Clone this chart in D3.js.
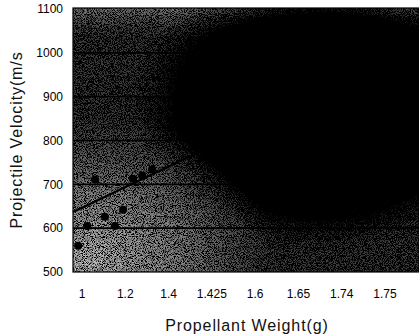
<!DOCTYPE html>
<html>
<head>
<meta charset="utf-8">
<script src="https://cdn.jsdelivr.net/npm/d3@7"></script>
<style>
  body { margin: 0; background: #fff; }
  svg { display: block; font-family: "Liberation Sans", Arial, sans-serif; }
  .tick-label { font-size: 12px; fill: #000; }
  .title { font-size: 16px; fill: #111; letter-spacing: 0.9px; }
</style>
</head>
<body>
<svg width="419" height="335"></svg>
<script>
// x categories (propellant weight, g) and y ticks (m/s)
const weights = ["1", "1.2", "1.4", "1.425", "1.6", "1.65", "1.74", "1.75"];
const velocityTicks = [500, 600, 700, 800, 900, 1000, 1100];
const gridValues = [600, 700, 800, 900, 1000];

// measured shots: position along the category axis (index units) and velocity
const shotPos = [-0.09, 0.12, 0.30, 0.53, 0.76, 0.95, 1.18, 1.39, 1.62];
const shotVel = [560, 605, 711, 626, 605, 642, 713, 720, 734];

// trend line end points
const trendPos = [-0.21, 3.5];
const trendVel = [637, 811];

const svg = d3.select("svg");
const pLeft = 73, pRight = 419, pTop = 8, pBottom = 272;

const xBand = d3.scalePoint().domain(weights).range([82, 385]);
const xPos = d3.scaleLinear().domain([0, weights.length - 1]).range([82, 385]);
const y = d3.scaleLinear().domain([500, 1100]).range([pBottom, pTop + 1]);

const defs = svg.append("defs");

const dark = defs.append("radialGradient")
  .attr("id", "dark").attr("cx", 0.72).attr("cy", 0.37).attr("r", 0.55);
dark.append("stop").attr("offset", 0).attr("stop-color", "#000");
dark.append("stop").attr("offset", 0.35).attr("stop-color", "#000").attr("stop-opacity", 0.95);
dark.append("stop").attr("offset", 0.7).attr("stop-color", "#000").attr("stop-opacity", 0.45);
dark.append("stop").attr("offset", 1).attr("stop-color", "#000").attr("stop-opacity", 0);

const rad = defs.append("radialGradient")
  .attr("id", "light").attr("cx", 0.04).attr("cy", 0.96).attr("r", 0.55);
rad.append("stop").attr("offset", 0).attr("stop-color", "#a0a0a0");
rad.append("stop").attr("offset", 0.5).attr("stop-color", "#7c7c7c").attr("stop-opacity", 0.8);
rad.append("stop").attr("offset", 1).attr("stop-color", "#666").attr("stop-opacity", 0);

const topBand = defs.append("linearGradient")
  .attr("id", "topband").attr("x1", 0).attr("y1", 0).attr("x2", 0).attr("y2", 1);
topBand.append("stop").attr("offset", 0).attr("stop-color", "#777").attr("stop-opacity", 0.7);
topBand.append("stop").attr("offset", 0.12).attr("stop-color", "#555").attr("stop-opacity", 0);

// halftone grain
const grain = defs.append("filter").attr("id", "grain")
  .attr("x", 0).attr("y", 0).attr("width", 1).attr("height", 1);
grain.append("feTurbulence")
  .attr("type", "fractalNoise").attr("baseFrequency", 1.1)
  .attr("numOctaves", 2).attr("seed", 7).attr("result", "noise");
grain.append("feColorMatrix").attr("in", "noise").attr("type", "matrix")
  .attr("values", "1 0 0 0 0  1 0 0 0 0  1 0 0 0 0  0 0 0 0 1").attr("result", "gray");
const ct = grain.append("feComponentTransfer").attr("in", "gray").attr("result", "contrast");
["feFuncR", "feFuncG", "feFuncB"].forEach((f) =>
  ct.append(f).attr("type", "linear").attr("slope", 4).attr("intercept", -1.5));
grain.append("feComposite").attr("in", "SourceGraphic").attr("in2", "contrast")
  .attr("operator", "arithmetic").attr("k1", 1.6).attr("k2", 0.1).attr("k3", 0).attr("k4", -0.04);

const plot = svg.append("g").attr("filter", "url(#grain)");
["#404040", "url(#topband)", "url(#dark)", "url(#light)"].forEach((fill) =>
  plot.append("rect").attr("x", pLeft).attr("y", pTop)
    .attr("width", pRight - pLeft).attr("height", pBottom - pTop).attr("fill", fill));

// gridlines
svg.append("g").selectAll("line").data(gridValues).join("line")
  .attr("x1", pLeft).attr("x2", pRight)
  .attr("y1", (d) => y(d)).attr("y2", (d) => y(d))
  .attr("stroke", "#000").attr("stroke-width", 1.6);

// plot frame
svg.append("rect").attr("x", pLeft).attr("y", pTop)
  .attr("width", pRight - pLeft).attr("height", pBottom - pTop)
  .attr("fill", "none").attr("stroke", "#000").attr("stroke-width", 1.2);

// trend line
svg.append("line")
  .attr("x1", xPos(trendPos[0])).attr("y1", y(trendVel[0]))
  .attr("x2", xPos(trendPos[1])).attr("y2", y(trendVel[1]))
  .attr("stroke", "#000").attr("stroke-width", 2.2);

// shots
svg.append("g").selectAll("circle").data(shotPos).join("circle")
  .attr("cx", (d) => xPos(d))
  .attr("cy", (d, i) => y(shotVel[i]))
  .attr("r", 4)
  .attr("fill", "#000");

// y axis labels
svg.append("g").selectAll("text").data(velocityTicks).join("text")
  .attr("class", "tick-label")
  .attr("x", 63).attr("y", (d) => y(d))
  .attr("dy", "0.35em").attr("text-anchor", "end")
  .text((d) => d);

// x axis labels
svg.append("g").selectAll("text").data(weights).join("text")
  .attr("class", "tick-label")
  .attr("x", (d) => xBand(d)).attr("y", 298)
  .attr("text-anchor", "middle")
  .text((d) => d);

svg.append("text").attr("class", "title")
  .attr("x", 247).attr("y", 331).attr("text-anchor", "middle")
  .text("Propellant Weight(g)");

svg.append("text").attr("class", "title")
  .attr("transform", "translate(22, 140) rotate(-90)")
  .attr("text-anchor", "middle")
  .text("Projectile Velocity(m/s");
</script>
</body>
</html>
